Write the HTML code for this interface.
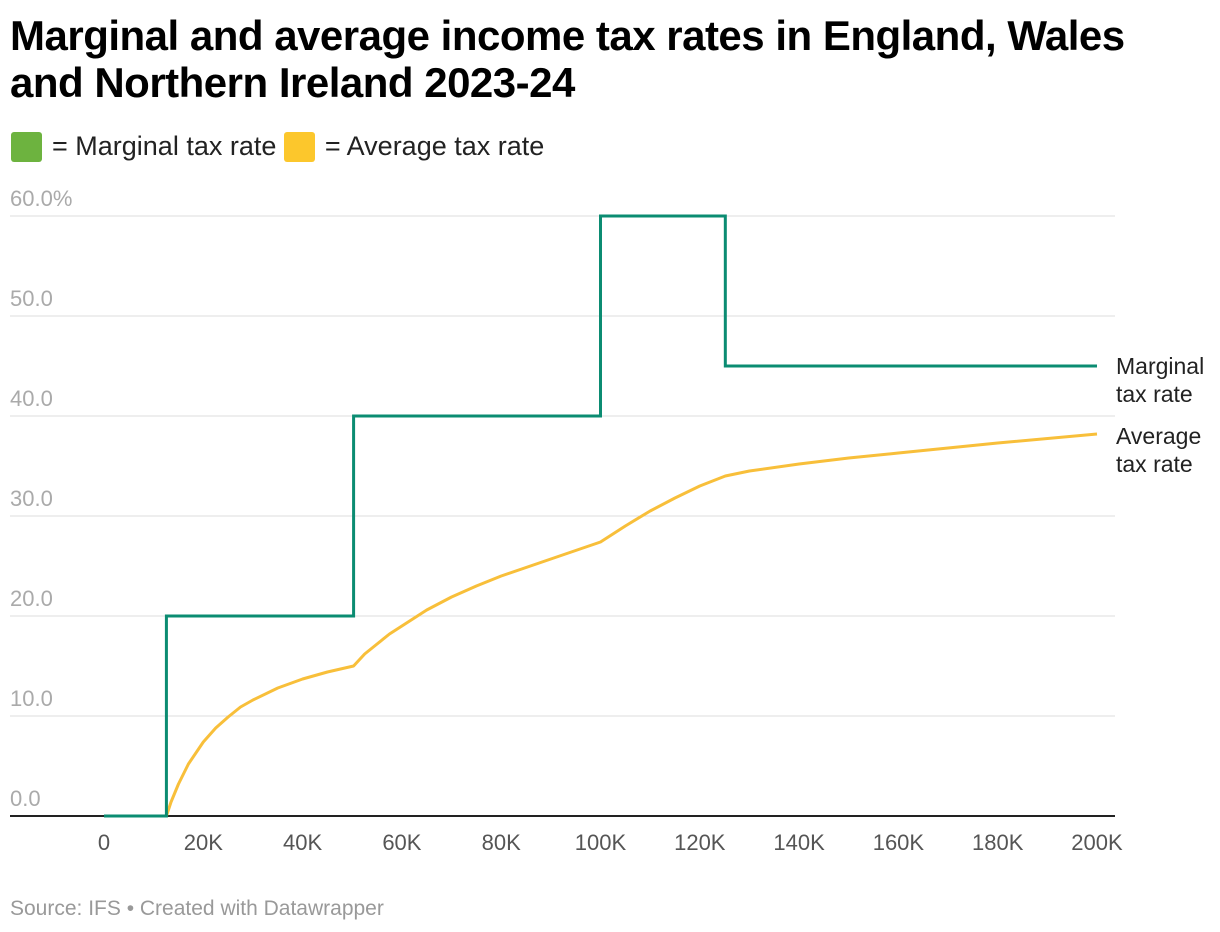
<!DOCTYPE html>
<html><head><meta charset="utf-8">
<style>
body{margin:0;background:#fff;width:1220px;height:932px;overflow:hidden;font-family:"Liberation Sans",sans-serif;}
h1{position:absolute;left:10px;top:12px;margin:0;font-size:42px;line-height:47px;font-weight:bold;color:#000;letter-spacing:-0.5px;}
.leg{position:absolute;left:11px;top:131px;font-size:27px;color:#222;display:flex;align-items:center;}
.sq{display:inline-block;width:31px;height:30px;border-radius:3px;margin-right:10px;}
.src{position:absolute;left:10px;top:897px;font-size:21px;color:#999;}
svg{position:absolute;left:0;top:0}
</style></head><body>
<h1>Marginal and average income tax rates in England, Wales<br>and Northern Ireland 2023-24</h1>
<div class="leg"><span class="sq" style="background:#6db33f"></span>= Marginal tax rate&nbsp;<span class="sq" style="background:#fcc72c"></span>= Average tax rate</div>
<svg id="chart" width="1220" height="932"></svg>
<div class="src">Source: IFS • Created with Datawrapper</div>
<script>
const yTicks=[0,10,20,30,40,50,60];
const yTickLabels=["0.0","10.0","20.0","30.0","40.0","50.0","60.0%"];
const xTicks=[0,20,40,60,80,100,120,140,160,180,200];
const xTickLabels=["0","20K","40K","60K","80K","100K","120K","140K","160K","180K","200K"];
const marginalIncome=[0,12.57,12.57,50.27,50.27,100,100,125.14,125.14,200];
const marginalRate=[0,0,20,20,40,40,60,60,45,45];
const averageIncome=[12.57,13.5,15,17,20,22.5,25,27.5,30,35,40,45,50.27,52.5,55,57.5,60,65,70,75,80,90,100,105,110,115,120,125.14,130,140,150,160,180,200];
const averageRate=[0,1.4,3.2,5.2,7.4,8.8,9.9,10.9,11.6,12.8,13.7,14.4,15.0,16.2,17.2,18.2,19.0,20.6,21.9,23.0,24.0,25.7,27.4,29.0,30.5,31.8,33.0,34.0,34.5,35.2,35.8,36.3,37.3,38.2];
const X=v=>104+v*(1097-104)/200;
const Y=v=>816-v*10;
const svg=document.getElementById('chart');
const NS='http://www.w3.org/2000/svg';
function mk(t,a){const e=document.createElementNS(NS,t);for(const k in a)e.setAttribute(k,a[k]);svg.appendChild(e);return e;}
yTicks.forEach((t,i)=>{
 const l=mk('line',{x1:10,x2:1115,y1:Y(t),y2:Y(t),stroke:t===0?'#222':'#ddd','stroke-width':t===0?2:1});
 
 
 const tx=mk('text',{x:10,y:Y(t)-10,'font-size':22,fill:'#aaa','font-family':'Liberation Sans, sans-serif'});
 tx.textContent=yTickLabels[i];
 
 
});
xTicks.forEach((t,i)=>{
 const tx=mk('text',{x:X(t),y:850,'font-size':22,fill:'#555','text-anchor':'middle','font-family':'Liberation Sans, sans-serif'});
 tx.textContent=xTickLabels[i];
 
 
});
const avg=mk('polyline',{points:averageIncome.map((v,i)=>X(v)+','+Y(averageRate[i])).join(' '),fill:'none',stroke:'#f8bf3a','stroke-width':3,'stroke-linejoin':'round'});


const mar=mk('polyline',{points:marginalIncome.map((v,i)=>X(v)+','+Y(marginalRate[i])).join(' '),fill:'none',stroke:'#0b8c72','stroke-width':3});


function lbl(lines,y,name){lines.forEach((s,i)=>{const t=mk('text',{x:1116,y:y+i*28,'font-size':23,fill:'#222','font-family':'Liberation Sans, sans-serif'});t.textContent=s;
 
 });}
lbl(["Marginal","tax rate"],374,'marginal-line-label');
lbl(["Average","tax rate"],444,'average-line-label');
</script>
</body></html>
